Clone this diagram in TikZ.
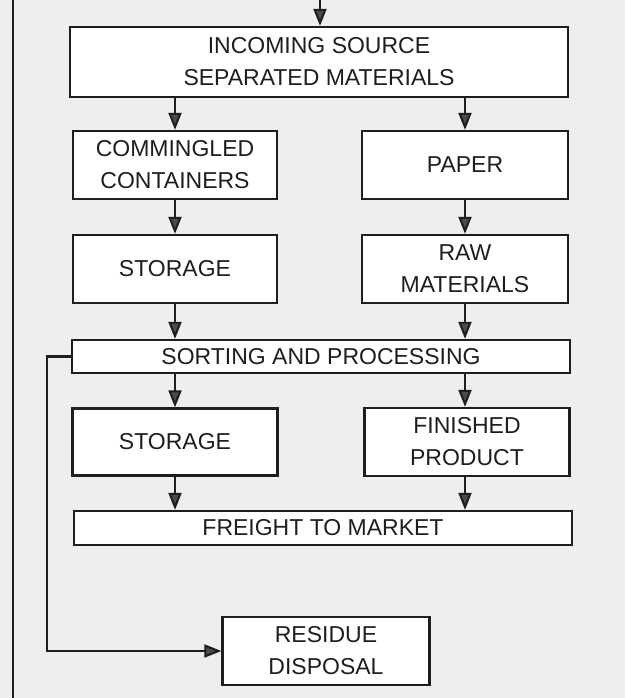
\documentclass[tikz,border=0pt]{standalone}
\usepackage{fontspec}
\setmainfont{Liberation Sans}
\usetikzlibrary{arrows.meta}
\definecolor{paperbg}{HTML}{EEEEEE}
\definecolor{inkc}{HTML}{1E1E1E}
\tikzset{
  box/.style={draw=inkc, line width=2.3pt, fill=white, text=inkc, align=center,
    inner sep=0pt, font=\fontsize{23}{32}\selectfont},
  arr/.style={draw=inkc, line width=2.1pt,
    -{Triangle[length=17pt,width=13pt,fill=black!70]}},
  line/.style={draw=inkc, line width=2.3pt}
}
\begin{document}
\begin{tikzpicture}[x=1pt,y=-1pt]
\fill[paperbg] (0,0) rectangle (625,698);
\useasboundingbox (0,0) rectangle (625,698);
\draw[line] (13,0) -- (13,698);
\node[box, minimum width=498pt, minimum height=70pt] (inc) at (319,62) {INCOMING SOURCE\\SEPARATED MATERIALS};
\node[box, minimum width=204pt, minimum height=68pt] (com) at (175,165) {COMMINGLED\\CONTAINERS};
\node[box, minimum width=206pt, minimum height=68pt] (pap) at (465,165) {PAPER};
\node[box, minimum width=204pt, minimum height=68pt] (sto1) at (175,269) {STORAGE};
\node[box, minimum width=206pt, minimum height=68pt] (raw) at (465,269) {RAW\\MATERIALS};
\node[box, minimum width=498pt, minimum height=33pt] (sort) at (321,356.5) {SORTING AND PROCESSING};
\node[box, minimum width=205pt, minimum height=67pt] (sto2) at (175,442) {STORAGE};
\node[box, minimum width=205pt, minimum height=68pt] (fin) at (467,442) {FINISHED\\PRODUCT};
\node[box, minimum width=498pt, minimum height=34pt] (fre) at (323,528) {FREIGHT TO MARKET};
\node[box, minimum width=207pt, minimum height=68pt] (res) at (326,651) {RESIDUE\\DISPOSAL};
\coordinate (top) at (320,0);
\draw[arr] (top) -- (inc.north -| top);
\draw[arr] (inc.south -| com) -- (com.north);
\draw[arr] (inc.south -| pap) -- (pap.north);
\draw[arr] (com) -- (sto1.north);
\draw[arr] (pap) -- (raw.north);
\draw[arr] (sto1.south) -- (sort.north -| sto1);
\draw[arr] (raw.south) -- (sort.north -| raw);
\draw[arr] (sort.south -| sto2) -- (sto2.north);
\draw[arr] (sort.south -| raw) -- (fin.north -| raw);
\draw[arr] (sto2.south) -- (fre.north -| sto2);
\draw[arr] (fin.south -| raw) -- (fre.north -| raw);
\draw[arr] (sort.west) -- ++(-24,0) |- (res.west);
\end{tikzpicture}
\end{document}
